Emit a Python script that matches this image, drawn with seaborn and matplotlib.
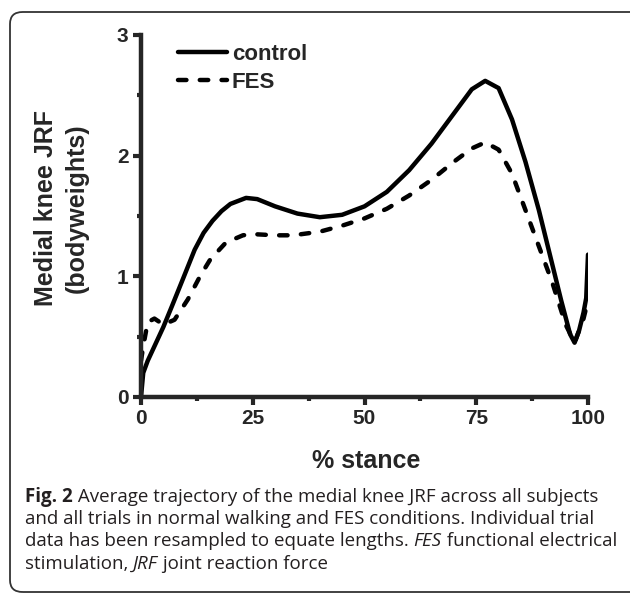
import numpy as np
import pandas as pd
import matplotlib
matplotlib.use("Agg")
import matplotlib.pyplot as plt
from matplotlib.patches import FancyBboxPatch
from matplotlib.ticker import MultipleLocator
import seaborn as sns

sns.set_theme(style="ticks")
plt.rcParams['font.family'] = ['Liberation Sans', 'DejaVu Sans']
plt.rcParams['lines.dash_capstyle'] = 'round'
plt.rcParams['lines.solid_capstyle'] = 'round'

# control (normal walking)
ctrl_x = [0, 0.5, 1.5, 3, 5, 7, 9.4, 12, 14, 16, 18, 20, 23.5, 26, 30, 35, 40, 45, 50,
          55, 60, 65, 70, 74, 77, 80, 83, 86, 89, 92, 94, 96, 97, 98, 99, 99.6, 100]
ctrl_y = [0.0, 0.2, 0.3, 0.42, 0.58, 0.76, 0.98, 1.22, 1.36, 1.46, 1.54, 1.6, 1.65, 1.64,
          1.58, 1.52, 1.49, 1.51, 1.58, 1.7, 1.88, 2.1, 2.35, 2.55, 2.62, 2.56, 2.3,
          1.95, 1.55, 1.1, 0.8, 0.52, 0.45, 0.55, 0.7, 0.82, 1.18]

# FES condition
fes_x = [0, 0.5, 1.5, 3, 5, 7.5, 10.5, 13.2, 15.5, 19, 22.8, 25, 30, 34, 40, 45, 50,
         55, 60, 65, 70, 74, 77, 80, 83, 86, 89, 92, 95, 97, 98, 99, 100]
fes_y = [0.3, 0.42, 0.62, 0.65, 0.6, 0.64, 0.81, 1.0, 1.14, 1.28, 1.34, 1.35, 1.34,
         1.34, 1.37, 1.42, 1.48, 1.56, 1.67, 1.8, 1.95, 2.06, 2.11, 2.05, 1.85, 1.55,
         1.25, 0.95, 0.6, 0.45, 0.55, 0.65, 0.8]

x_ticks = [0, 25, 50, 75, 100]
y_ticks = [0, 1, 2, 3]

df = pd.concat([
    pd.DataFrame({"stance": ctrl_x, "jrf": ctrl_y, "cond": "control"}),
    pd.DataFrame({"stance": fes_x, "jrf": fes_y, "cond": "FES"}),
])

fig = plt.figure(figsize=(6.3, 5.94), dpi=100)
ax = fig.add_axes([141 / 630, 1 - 397 / 594, 447 / 630, 362 / 594])

sns.lineplot(data=df, x="stance", y="jrf", style="cond", color="black",
             dashes={"control": "", "FES": (1.9, 3.0)}, linewidth=3.2,
             estimator=None, sort=False, ax=ax)

ax.set_xlim(0, 100)
ax.set_ylim(0, 3)
ax.set_xticks(x_ticks)
ax.set_yticks(y_ticks)
ax.xaxis.set_minor_locator(MultipleLocator(12.5))
ax.yaxis.set_minor_locator(MultipleLocator(0.5))
for s in ["top", "right"]:
    ax.spines[s].set_visible(False)
for s in ["left", "bottom"]:
    ax.spines[s].set_linewidth(3.2)
ax.tick_params(which="major", length=6, width=3, labelsize=15, pad=3)
ax.tick_params(which="minor", length=3, width=3)
for lab in ax.get_xticklabels() + ax.get_yticklabels():
    lab.set_fontweight("bold")

ax.set_xlabel("% stance", fontsize=18, fontweight="bold", va="top")
ax.xaxis.set_label_coords(0.503, -0.143)
ax.set_ylabel("Medial knee JRF\n(bodyweights)", fontsize=18, fontweight="bold",
              linespacing=1.4)
ax.yaxis.set_label_coords(-0.116, 0.522)

leg = ax.legend(loc="upper left", bbox_to_anchor=(0.083, 0.975), frameon=False,
                borderpad=0, borderaxespad=0,
                handlelength=2.2, handletextpad=0.22, labelspacing=0.3,
                prop={"weight": "bold", "size": 16})
for h in leg.get_lines():
    h.set_linewidth(3.2)

# frame around the figure
frame = FancyBboxPatch((10 / 630, 2 / 594), 640 / 630, 580 / 594,
                       boxstyle="round,pad=0,rounding_size=0.02",
                       transform=fig.transFigure, fill=False,
                       edgecolor="#333333", linewidth=1.3, clip_on=False)
fig.patches.append(frame)

# caption with mixed styles
cap_font = ['Open Sans', 'DejaVu Sans']
cap_lines = [
    [("Fig. 2", "bold", "normal"), (" Average trajectory of the medial knee JRF across all subjects", "normal", "normal")],
    [("and all trials in normal walking and FES conditions. Individual trial", "normal", "normal")],
    [("data has been resampled to equate lengths. ", "normal", "normal"), ("FES", "normal", "italic"),
     (" functional electrical", "normal", "normal")],
    [("stimulation, ", "normal", "normal"), ("JRF", "normal", "italic"), (" joint reaction force", "normal", "normal")],
]
fig.canvas.draw()
renderer = fig.canvas.get_renderer()
y0 = 1 - 502 / 594
for i, parts in enumerate(cap_lines):
    xpos = 25 / 630
    y = y0 - i * 22.2 / 594
    for txt, w, st in parts:
        t = fig.text(xpos, y, txt, fontsize=13.5, fontweight=w, fontstyle=st,
                     family=cap_font, color="#231f20", va="baseline", ha="left")
        bb = t.get_window_extent(renderer)
        xpos = bb.x1 / fig.bbox.width

fig.savefig("out.png", dpi=100)
